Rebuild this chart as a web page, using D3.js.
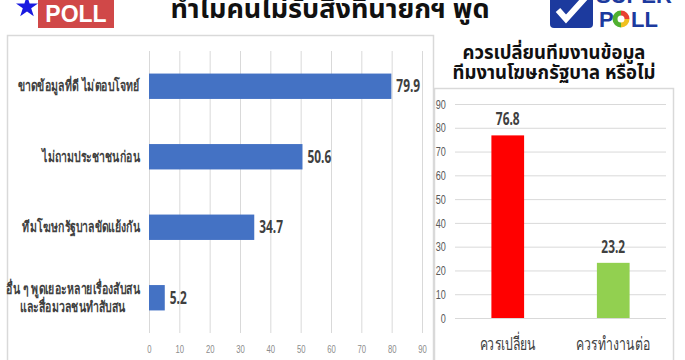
<!DOCTYPE html>
<html>
<head>
<meta charset="utf-8">
<script src="https://cdn.jsdelivr.net/npm/d3@7"></script>
<style>
  body { margin: 0; background: #fff; }
  svg { display: block; font-family: Tahoma, "Noto Sans Thai", "Noto Sans", sans-serif; }
</style>
</head>
<body>
<svg id="chart" width="685" height="360"></svg>
<script>
// data
const barCategories = [
  "ขาดข้อมูลที่ดี ไม่ตอบโจทย์",
  "ไม่ถามประชาชนก่อน",
  "ทีมโฆษกรัฐบาลขัดแย้งกัน",
  "อื่น ๆ พูดเยอะหลายเรื่องสับสน|และสื่อมวลชนทำสับสน"
];
const barValues = [79.9, 50.6, 34.7, 5.2];
const barTicks = [0, 10, 20, 30, 40, 50, 60, 70, 80, 90];

const colCategories = ["ควรเปลี่ยน", "ควรทำงานต่อ"];
const colValues = [76.8, 23.2];
const colColors = ["#ff0000", "#92d050"];
const colTicks = [0, 10, 20, 30, 40, 50, 60, 70, 80, 90];

const mainTitle = "ทำไมคนไม่รับสิ่งที่นายกฯ พูด";
const sideTitle = ["ควรเปลี่ยนทีมงานข้อมูล", "ทีมงานโฆษกรัฐบาล หรือไม่"];

// the original uses a narrow font, so squeeze text horizontally
const narrow = "scale(0.7,1)";

const svg = d3.select("#chart");

// header logos + title
svg.append("path")
  .attr("d", d3.symbol(d3.symbolStar, 150)())
  .attr("transform", "translate(27,7)")
  .attr("fill", "#1a1ae0");
svg.append("rect")
  .attr("x", 38).attr("y", -6).attr("width", 76).attr("height", 34)
  .attr("fill", "#d04848");
svg.append("text")
  .attr("x", 76).attr("y", 22)
  .attr("text-anchor", "middle")
  .attr("fill", "#fff")
  .attr("font-family", "Arial, 'Liberation Sans', sans-serif")
  .attr("font-weight", "bold").attr("font-size", 23)
  .text("POLL");

svg.append("text")
  .attr("x", 330).attr("y", 18)
  .attr("text-anchor", "middle")
  .attr("font-weight", "bold").attr("font-size", 27)
  .attr("fill", "#111")
  .text(mainTitle);

const logo = svg.append("g")
  .attr("font-family", "Arial, 'Liberation Sans', sans-serif")
  .attr("font-weight", "bold").attr("font-size", 22)
  .attr("fill", "#1c3a9e");
logo.append("rect")
  .attr("x", 550).attr("y", -8).attr("width", 43).attr("height", 36).attr("rx", 4)
  .attr("fill", "#1c3a9e");
logo.append("path")
  .attr("d", "M558,10 L566,19 L585,-2")
  .attr("fill", "none").attr("stroke", "#fff").attr("stroke-width", 6);
logo.append("text").attr("x", 596).attr("y", 3).text("SUPER");
logo.append("text").attr("x", 599).attr("y", 27).text("P");
const ringArcs = d3.pie().sort(null)([1, 1, 2]);
const ringColors = ["#e84030", "#f0c020", "#50b030"];
logo.selectAll(".ring")
  .data(ringArcs)
  .join("path")
  .attr("class", "ring")
  .attr("transform", "translate(621,19)")
  .attr("d", d3.arc().innerRadius(3.5).outerRadius(8.5))
  .attr("fill", (d, i) => ringColors[i]);
logo.append("text").attr("x", 631).attr("y", 27).text("LL");

// panel frames
svg.append("rect")
  .attr("x", 7.5).attr("y", 35.5).attr("width", 426).attr("height", 340)
  .attr("fill", "none").attr("stroke", "#d9d9d9").attr("stroke-width", 1.5);
svg.append("rect")
  .attr("x", 434.5).attr("y", 88.5).attr("width", 239).attr("height", 290)
  .attr("fill", "none").attr("stroke", "#d9d9d9").attr("stroke-width", 1.5);

// ---- left: horizontal bars ----
const x = d3.scaleLinear().domain([0, 90]).range([149, 422]);
const y = d3.scaleBand()
  .domain(barCategories)
  .range([51, 333])
  .paddingInner(0.64)
  .paddingOuter(0.32);

const xAxis = svg.append("g")
  .attr("transform", "translate(0,333)")
  .call(d3.axisBottom(x).tickValues(barTicks).tickSize(-282).tickPadding(12));
xAxis.select(".domain").remove();
xAxis.selectAll(".tick line").attr("stroke", "#d9d9d9");
xAxis.selectAll(".tick text")
  .attr("fill", "#8c8c8c").attr("font-size", 11)
  .attr("transform", narrow);

svg.selectAll(".hbar")
  .data(barValues)
  .join("rect")
  .attr("class", "hbar")
  .attr("x", x(0))
  .attr("y", (d, i) => y(barCategories[i]))
  .attr("width", d => x(d) - x(0))
  .attr("height", y.bandwidth())
  .attr("fill", "#4472c4");

svg.selectAll(".hval")
  .data(barValues)
  .join("text")
  .attr("class", "hval")
  .attr("transform", (d, i) =>
    `translate(${x(d) + 5},${y(barCategories[i]) + y.bandwidth() / 2}) ${narrow}`)
  .attr("dy", "0.36em")
  .attr("fill", "#404040")
  .attr("font-weight", "bold").attr("font-size", 17)
  .text(d => d);

const yAxis = svg.append("g")
  .attr("transform", "translate(140,0)")
  .call(d3.axisLeft(y).tickSize(0).tickPadding(0));
yAxis.select(".domain").remove();
yAxis.selectAll(".tick text")
  .attr("fill", "#404040").attr("font-size", 15).attr("font-weight", "bold")
  .attr("transform", narrow)
  .each(function (d) {
    const lines = d.split("|");
    const t = d3.select(this).text(null);
    const spans = lines.map((ln, k) => t.append("tspan")
      .attr("x", 0)
      .attr("dy", k === 0 ? (0.34 - (lines.length - 1) * 0.6) + "em" : "1.2em")
      .text(ln));
    if (lines.length > 1) {
      // multi-line labels are centred on the longest line
      const w = d3.max(spans, s => s.node().getComputedTextLength());
      t.attr("text-anchor", "middle");
      spans.forEach(s => s.attr("x", -w / 2));
    }
  })
  .attr("dy", null);

// ---- right: column chart ----
svg.append("g").selectAll("text")
  .data(sideTitle)
  .join("text")
  .attr("x", 554)
  .attr("y", (d, i) => 59 + i * 20)
  .attr("text-anchor", "middle")
  .attr("font-weight", "bold").attr("font-size", 18.5)
  .attr("fill", "#111")
  .text(d => d);

const cx = d3.scaleBand()
  .domain(colCategories)
  .range([455, 666])
  .paddingInner(0.69)
  .paddingOuter(0.345);
const cy = d3.scaleLinear().domain([0, 90]).range([318, 104]);

const cyAxis = svg.append("g")
  .attr("transform", "translate(455,0)")
  .call(d3.axisLeft(cy).tickValues(colTicks).tickSize(-211).tickPadding(6));
cyAxis.select(".domain").remove();
cyAxis.selectAll(".tick line").attr("stroke", "#d9d9d9");
cyAxis.selectAll(".tick text")
  .attr("fill", "#595959").attr("font-size", 13)
  .attr("transform", "translate(-5,0) " + narrow);

svg.selectAll(".col")
  .data(colValues)
  .join("rect")
  .attr("class", "col")
  .attr("x", (d, i) => cx(colCategories[i]))
  .attr("y", d => cy(d))
  .attr("width", cx.bandwidth())
  .attr("height", d => cy(0) - cy(d))
  .attr("fill", (d, i) => colColors[i]);

svg.selectAll(".cval")
  .data(colValues)
  .join("text")
  .attr("class", "cval")
  .attr("transform", (d, i) =>
    `translate(${cx(colCategories[i]) + cx.bandwidth() / 2},${cy(d) - 10}) ${narrow}`)
  .attr("text-anchor", "middle")
  .attr("fill", "#404040")
  .attr("font-weight", "bold").attr("font-size", 17)
  .text(d => d);

const cxAxis = svg.append("g")
  .attr("transform", "translate(0,318)")
  .call(d3.axisBottom(cx).tickSize(0).tickPadding(19));
cxAxis.select(".domain").remove();
cxAxis.selectAll(".tick text")
  .attr("fill", "#404040").attr("font-size", 18)
  .attr("transform", "scale(0.68,1)");
</script>
</body>
</html>
